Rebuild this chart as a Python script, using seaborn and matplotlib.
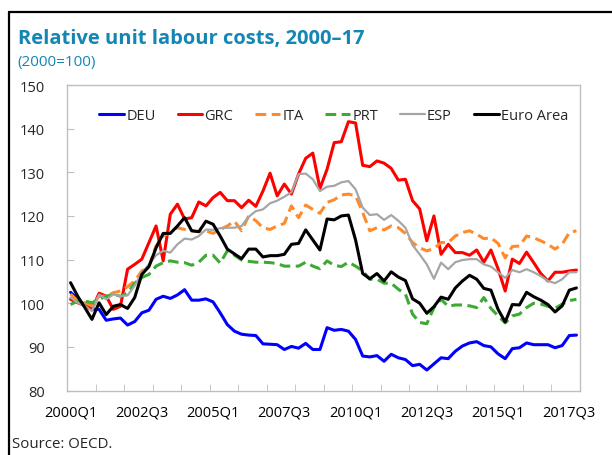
import seaborn as sns
import matplotlib.pyplot as plt
import pandas as pd
import numpy as np
from matplotlib.lines import Line2D
from matplotlib.ticker import FixedLocator

# quarterly index 2000Q1 .. 2017Q4
quarters = [f"{y}Q{q}" for y in range(2000, 2018) for q in range(1, 5)]
tick_labels = ["2000Q1", "2002Q3", "2005Q1", "2007Q3", "2010Q1", "2012Q3", "2015Q1", "2017Q3"]

deu = [102.5, 101.0, 99.5, 98.6, 98.6, 96.1, 96.4, 96.6, 95.0, 95.8, 97.8, 98.4,
       100.9, 101.6, 101.1, 101.9, 103.1, 100.7, 100.7, 101.0, 100.3, 97.8, 95.1, 93.6,
       92.9, 92.7, 92.6, 90.7, 90.6, 90.5, 89.4, 90.1, 89.7, 90.8, 89.4, 89.4,
       94.4, 93.8, 94.0, 93.6, 91.7, 87.9, 87.7, 88.0, 86.7, 88.3, 87.5, 87.1,
       85.7, 86.0, 84.7, 86.1, 87.5, 87.3, 89.0, 90.2, 90.9, 91.2, 90.3, 90.0,
       88.4, 87.3, 89.6, 89.8, 90.9, 90.5, 90.5, 90.5, 89.8, 90.3, 92.6, 92.7]
grc = [100.9, 100.1, 99.5, 98.6, 102.3, 101.6, 98.6, 99.3, 107.8, 108.9, 110.1, 113.9,
       117.7, 109.7, 120.4, 122.7, 119.3, 119.6, 123.2, 122.3, 124.2, 125.4, 123.5, 123.5,
       121.9, 123.6, 122.2, 125.7, 129.8, 124.6, 127.3, 125.0, 129.6, 133.2, 134.4, 126.3,
       130.7, 136.8, 137.0, 141.6, 141.3, 131.6, 131.3, 132.6, 132.1, 130.9, 128.2, 128.4,
       123.5, 121.6, 114.3, 120.0, 111.2, 113.5, 111.6, 111.6, 111.0, 112.2, 109.4, 112.2,
       107.9, 102.8, 110.1, 109.1, 111.7, 109.3, 106.8, 105.1, 107.1, 107.1, 107.4, 107.6]
ita = [102.1, 100.5, 100.1, 99.4, 101.6, 101.6, 102.4, 102.8, 103.8, 105.1, 107.4, 108.5,
       113.1, 115.4, 116.2, 117.3, 116.9, 116.6, 116.4, 116.6, 116.0, 116.9, 117.7, 118.8,
       116.6, 120.0, 118.9, 117.3, 116.9, 117.7, 118.3, 122.3, 119.6, 122.5, 121.5, 120.6,
       123.1, 123.7, 124.8, 125.0, 124.6, 120.8, 116.6, 117.3, 116.8, 117.7, 117.3, 116.0,
       113.9, 112.7, 112.0, 112.5, 113.9, 113.9, 115.4, 116.2, 116.6, 115.8, 114.8, 115.0,
       113.7, 110.4, 113.0, 113.1, 115.4, 115.0, 114.3, 113.5, 112.4, 113.5, 116.2, 116.6]
prt = [99.7, 100.5, 100.5, 100.1, 100.9, 101.6, 102.0, 101.6, 102.4, 104.6, 105.9, 106.6,
       108.5, 109.3, 109.7, 109.4, 109.3, 108.7, 109.4, 111.0, 111.0, 109.2, 112.0, 111.0,
       109.9, 109.6, 109.4, 109.4, 109.3, 109.1, 108.5, 108.5, 108.5, 109.4, 108.5, 107.9,
       109.7, 108.7, 108.4, 109.4, 108.5, 107.4, 105.5, 105.5, 104.6, 104.6, 103.2, 102.1,
       97.5, 95.6, 95.3, 99.0, 100.9, 99.3, 99.6, 99.6, 99.4, 99.0, 101.3, 98.8,
       97.1, 95.5, 97.1, 97.5, 99.0, 100.0, 99.8, 99.3, 98.8, 99.8, 100.6, 100.9]
esp = [101.3, 100.1, 99.4, 98.2, 102.0, 100.9, 102.0, 101.6, 101.8, 104.0, 107.0, 108.9,
       111.0, 112.0, 111.6, 113.5, 114.8, 114.6, 115.4, 116.9, 116.8, 117.2, 117.3, 117.3,
       117.7, 119.8, 121.1, 121.5, 122.9, 123.5, 124.4, 125.4, 129.6, 129.7, 128.4, 125.7,
       126.7, 126.9, 127.7, 128.0, 126.1, 121.9, 120.2, 120.4, 119.1, 120.2, 118.9, 117.3,
       113.3, 111.2, 108.9, 105.6, 109.3, 107.8, 109.4, 109.9, 110.1, 110.1, 108.9, 108.4,
       107.1, 105.8, 107.6, 107.1, 107.8, 107.1, 106.2, 105.1, 104.6, 105.5, 107.1, 107.1]
euro_area = [104.7, 101.6, 99.0, 96.3, 100.1, 97.4, 99.3, 99.7, 98.8, 101.3, 106.6, 108.4,
             112.7, 116.0, 116.0, 117.7, 119.6, 116.6, 116.4, 118.8, 118.1, 115.4, 112.4, 111.3,
             110.2, 112.4, 112.4, 110.6, 110.9, 110.9, 111.2, 113.5, 113.7, 116.8, 114.5, 112.2,
             119.3, 119.1, 120.0, 120.2, 114.5, 106.8, 105.6, 106.8, 105.1, 107.2, 106.0, 105.2,
             101.0, 100.0, 97.7, 99.2, 101.4, 100.9, 103.5, 105.1, 106.4, 105.5, 103.4, 103.0,
             98.6, 95.7, 99.7, 99.6, 102.5, 101.5, 100.7, 99.7, 98.0, 99.4, 103.0, 103.5]

df = pd.DataFrame({"quarter": quarters, "DEU": deu, "GRC": grc, "ITA": ita,
                   "PRT": prt, "ESP": esp, "Euro Area": euro_area})
df["idx"] = np.arange(len(df))

sns.set_style("white")
plt.rcParams["font.family"] = ["Open Sans", "DejaVu Sans"]

styles = {
    "DEU": dict(color="#0000FF", lw=2.2, ls="-"),
    "GRC": dict(color="#FF0000", lw=2.2, ls="-"),
    "ITA": dict(color="#FF8A2B", lw=2.2, ls=(0, (3.5, 1.8))),
    "PRT": dict(color="#3DAA34", lw=2.2, ls=(0, (3.5, 1.8))),
    "ESP": dict(color="#A6A6A6", lw=1.6, ls="-"),
    "Euro Area": dict(color="#000000", lw=2.2, ls="-"),
}

fig = plt.figure(figsize=(6.12, 4.56), dpi=100)
ax = fig.add_axes([0.1095, 0.1414, 0.8382, 0.67])

for name, st in styles.items():
    sns.lineplot(data=df, x="idx", y=name, ax=ax, color=st["color"],
                 linewidth=st["lw"], linestyle=st["ls"], label=name)

ax.set_xlim(-0.5, len(df) - 0.5)
ax.set_ylim(80, 150)
ax.set_yticks(range(80, 151, 10))
ax.set_xticks([quarters.index(t) for t in tick_labels])
ax.set_xticklabels(tick_labels)
ax.xaxis.set_minor_locator(FixedLocator(np.arange(-0.5, len(df), 4)))
ax.tick_params(axis="x", which="major", length=0, pad=10, labelsize=10.5, colors="black")
ax.tick_params(axis="x", which="minor", length=5, direction="in", color="#BFBFBF", bottom=True)
ax.tick_params(axis="y", length=5, direction="in", color="#BFBFBF", pad=16, labelsize=10.5, left=True)
ax.set_xlabel("")
ax.set_ylabel("")
for s in ax.spines.values():
    s.set_color("#BFBFBF")
    s.set_linewidth(1.0)

ax.legend(loc="center", bbox_to_anchor=(0.52, 0.90), ncol=6, frameon=False,
          fontsize=10.5, handlelength=1.7, handletextpad=0.15, columnspacing=1.5)

fig.text(0.029, 0.903, "Relative unit labour costs, 2000\u201317", fontsize=14.5,
         fontweight="bold", color="#1386B4", va="baseline")
fig.text(0.029, 0.855, "(2000=100)", fontsize=11, color="#1386B4", va="baseline")
fig.text(0.02, 0.018, "Source: OECD.", fontsize=10.8, va="baseline")

# black frame lines top and left
fig.add_artist(Line2D([8.5 / 612, 1.0], [1 - 12.5 / 456] * 2, color="black", lw=1.6))
fig.add_artist(Line2D([8.5 / 612] * 2, [0.0, 1 - 12.5 / 456], color="black", lw=1.6))

fig.savefig("out.png", dpi=100)
